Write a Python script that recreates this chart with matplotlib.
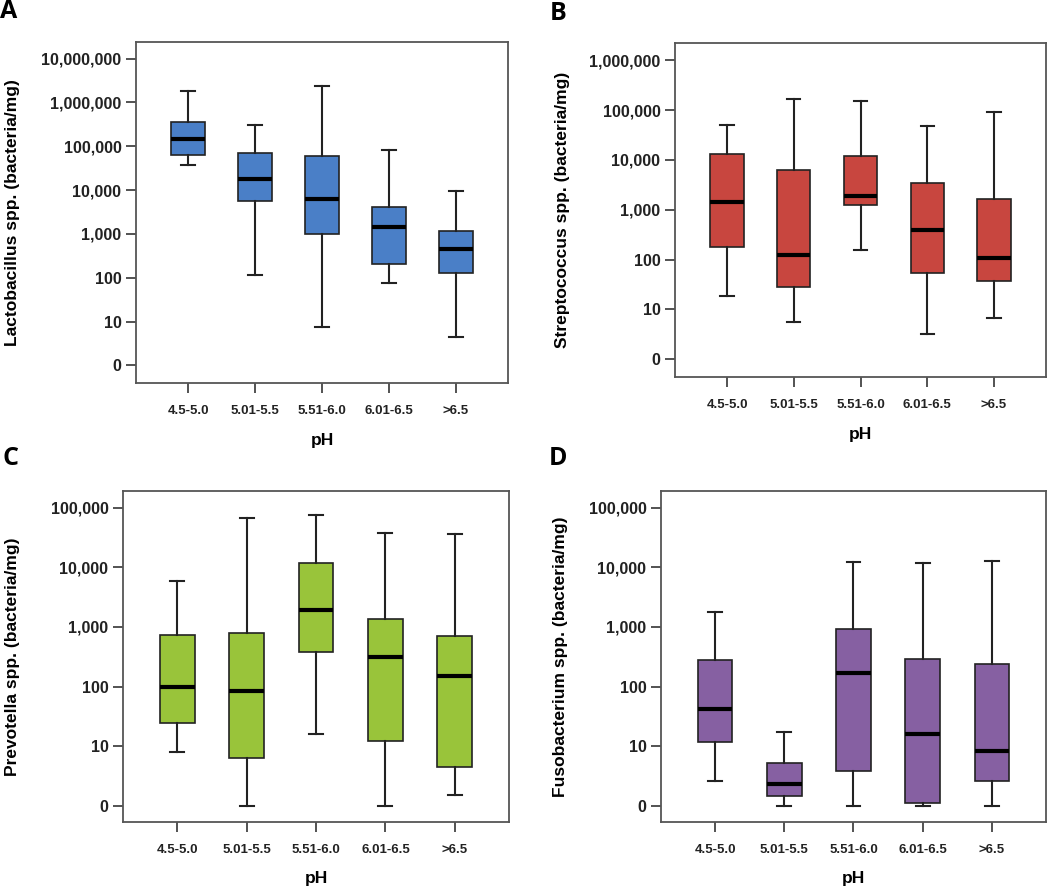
import numpy as np
import matplotlib
matplotlib.use('Agg')
from matplotlib import pyplot as plt

plt.rcParams['font.family'] = ['Liberation Sans', 'DejaVu Sans']

ph_groups = ['4.5-5.0', '5.01-5.5', '5.51-6.0', '6.01-6.5', '>6.5']

# box stats (bacteria/mg), per pH group
lacto_lo = [3.7e4, 115, 7.4, 78, 4.4]
lacto_q1 = [6.4e4, 5.6e3, 1.0e3, 203, 128]
lacto_med = [1.5e5, 1.8e4, 6.2e3, 1.47e3, 455]
lacto_q3 = [3.5e5, 7.2e4, 5.9e4, 4.1e3, 1.2e3]
lacto_hi = [1.8e6, 3.1e5, 2.4e6, 8.1e4, 9.7e3]

strep_lo = [18.7, 5.5, 152, 3.2, 6.6]
strep_q1 = [178, 28, 1.24e3, 54, 36.5]
strep_med = [1.45e3, 125, 1.86e3, 390, 109]
strep_q3 = [1.34e4, 6.3e3, 1.2e4, 3.5e3, 1.66e3]
strep_hi = [5.0e4, 1.67e5, 1.5e5, 4.8e4, 9.0e4]

prev_lo = [8.1, 1, 15.8, 1, 1.5]
prev_q1 = [25, 6.3, 376, 12.4, 4.5]
prev_med = [100, 84, 1.94e3, 310, 152]
prev_q3 = [747, 796, 1.17e4, 1.38e3, 718]
prev_hi = [5.8e3, 6.7e4, 7.4e4, 3.75e4, 3.6e4]

fuso_lo = [2.6, 1, 1, 1, 1]
fuso_q1 = [11.8, 1.48, 3.9, 1.1, 2.6]
fuso_med = [41.5, 2.36, 171, 16.3, 8.2]
fuso_q3 = [277, 5.2, 926, 286, 235]
fuso_hi = [1.78e3, 17.6, 1.25e4, 1.17e4, 1.28e4]

panels = [
    ('A', 'Lactobacillus spp. (bacteria/mg)', '#4a7fc7',
     lacto_lo, lacto_q1, lacto_med, lacto_q3, lacto_hi, 7, (-0.40, 7.38),
     [136, 508, 42, 383], (0, 12), 13),
    ('B', 'Streptococcus spp. (bacteria/mg)', '#c8463f',
     strep_lo, strep_q1, strep_med, strep_q3, strep_hi, 6, (-0.36, 6.35),
     [675, 1046, 43, 377], (550, 14), 562),
    ('C', 'Prevotella spp. (bacteria/mg)', '#99c43a',
     prev_lo, prev_q1, prev_med, prev_q3, prev_hi, 5, (-0.27, 5.28),
     [123, 509, 491, 822], (2, 459), 13),
    ('D', 'Fusobacterium spp. (bacteria/mg)', '#8660a2',
     fuso_lo, fuso_q1, fuso_med, fuso_q3, fuso_hi, 5, (-0.27, 5.28),
     [661, 1046, 491, 822], (549, 459), 561),
]

W, H = 1050, 886
fig = plt.figure(figsize=(W / 100, H / 100), dpi=100)

for (letter, ylabel, color, lo, q1, med, q3, hi, top, ylim,
     box, letter_xy, ylab_x) in panels:
    left, right, ytop, ybot = box
    ax = fig.add_axes([left / W, 1 - ybot / H, (right - left) / W, (ybot - ytop) / H])
    stats = []
    for i in range(len(ph_groups)):
        stats.append({'whislo': lo[i], 'q1': q1[i], 'med': med[i],
                      'q3': q3[i], 'whishi': hi[i], 'fliers': []})
    ax.bxp(stats, positions=np.arange(1, 6), widths=0.5, patch_artist=True,
           showfliers=False,
           boxprops=dict(facecolor=color, edgecolor='#222222', linewidth=1.2),
           medianprops=dict(color='black', linewidth=3),
           whiskerprops=dict(color='#222222', linewidth=1.5),
           capprops=dict(color='#222222', linewidth=1.5),
           capwidths=0.2)
    ax.set_yscale('log')
    ax.set_ylim(10 ** ylim[0], 10 ** ylim[1])
    ax.set_xlim(0.22, 5.78)
    ticks = [10 ** k for k in range(top + 1)]
    ax.set_yticks(ticks)
    ax.set_yticklabels(['0'] + ['{:,}'.format(t) for t in ticks[1:]],
                       fontsize=11.5, fontweight='bold', color='#222222')
    ax.minorticks_off()
    ax.set_xticks(np.arange(1, 6))
    ax.set_xticklabels(ph_groups, fontsize=9.5, fontweight='bold', color='#222222')
    ax.tick_params(axis='both', direction='out', length=7, width=1.3,
                   color='#444444')
    ax.tick_params(axis='x', pad=9)
    for s in ax.spines.values():
        s.set_color('#555555')
        s.set_linewidth(1.3)
    ax.set_xlabel('pH', fontsize=12.5, fontweight='bold', labelpad=11)
    fig.text(ylab_x / W, 1 - (ytop + ybot) / 2 / H, ylabel, rotation=90,
             ha='center', va='center', fontsize=12.5, fontweight='bold')
    fig.text(letter_xy[0] / W, 1 - letter_xy[1] / H, letter, ha='left',
             va='center', fontsize=18, fontweight='bold', family='Open Sans')

fig.savefig('out.png', dpi=100)
plt.close(fig)
